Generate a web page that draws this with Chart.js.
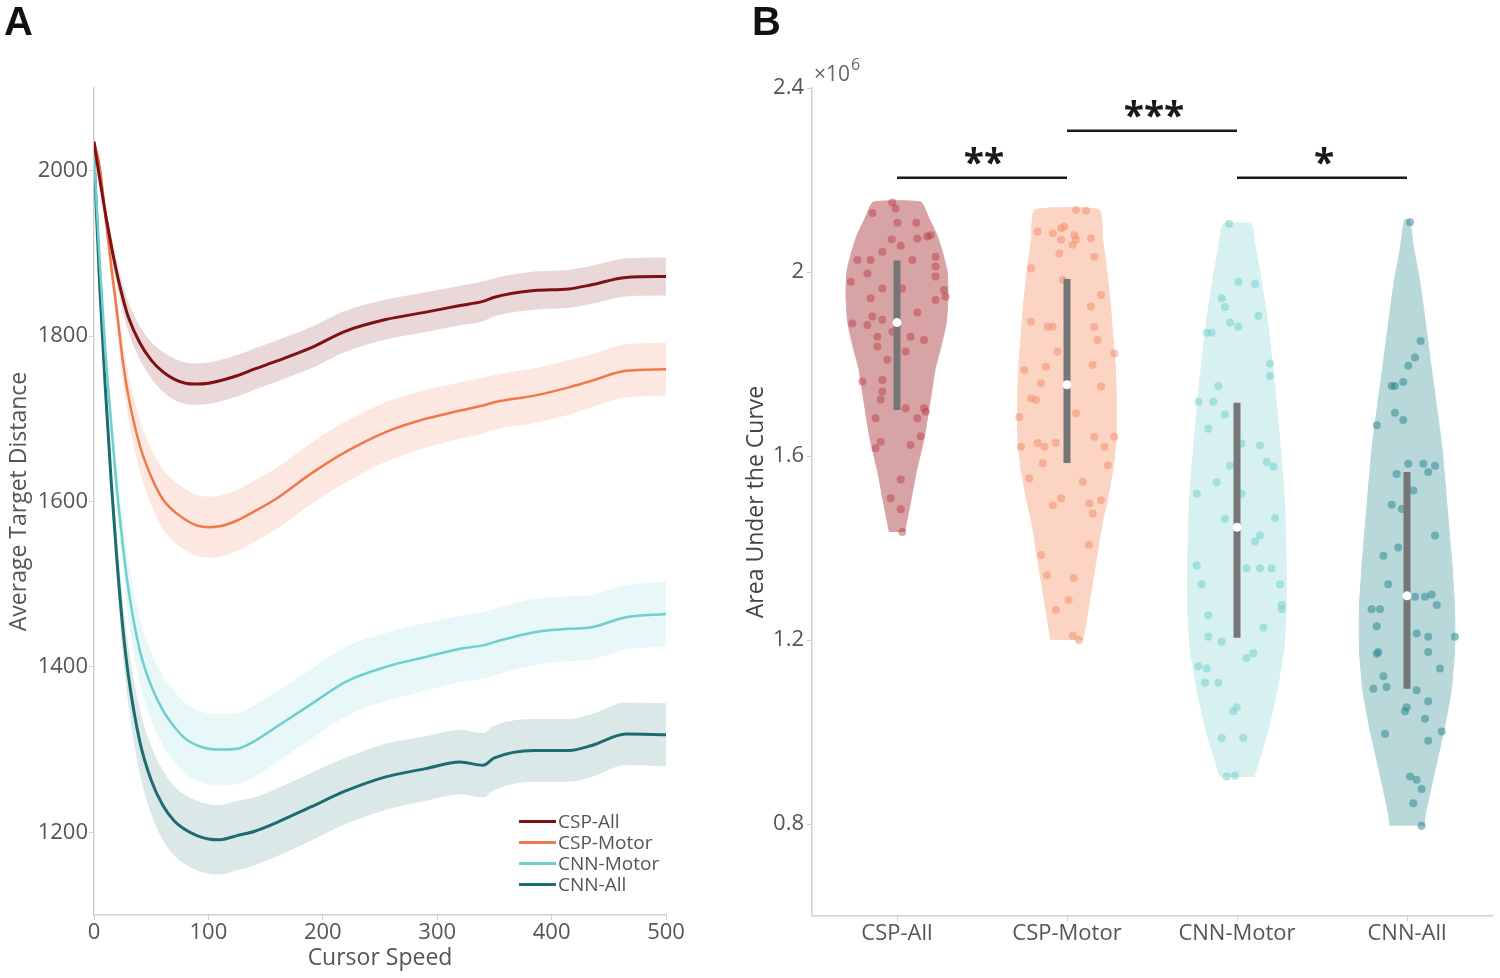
<!DOCTYPE html>
<html lang="en">
<head>
  <meta charset="UTF-8" />
  <title>Target distance and area under the curve</title>
  <style>
    body {
      margin: 0;
      background: white;
      font-family: 'Open Sans', sans-serif;
    }

    .page {
      position: relative;
      width: 1500px;
      height: 978px;
      overflow: hidden;
    }

    canvas {
      position: absolute;
      top: 0;
    }

    #distChart { left: 0; }
    #aucChart { left: 700px; }

    .tag {
      position: absolute;
      top: 1px;
      margin: 0;
      font: bold 40px 'Liberation Sans', Arial, sans-serif;
      line-height: 1;
      color: #111;
    }

    #legendA {
      position: absolute;
      left: 519px;
      top: 811px;
      font-size: 19px;
      line-height: 21px;
      color: #555;
    }

    #legendA .row {
      display: flex;
      align-items: center;
      white-space: nowrap;
    }

    #legendA .swatch {
      width: 37px;
      height: 3px;
      margin-right: 2px;
    }
  </style>
</head>
<body>

  <div class="page">
    <canvas id="distChart" width="700" height="978"></canvas>
    <canvas id="aucChart" width="800" height="978"></canvas>
    <div class="tag" style="left:4px">A</div>
    <div class="tag" style="left:752px">B</div>
    <div id="legendA"></div>
  </div>

  <script src="https://cdn.jsdelivr.net/npm/chart.js"></script>
  <script>
    // ---- panel A: average target distance vs cursor speed ----
    const speeds = [0, 5, 10, 15, 20, 25, 30, 40, 50, 60, 70, 80, 90, 100, 110, 125, 140, 160, 190, 220, 255, 290, 320, 340, 350, 385, 415, 435, 465, 500];
    const seriesNames = ['CSP-All', 'CSP-Motor', 'CNN-Motor', 'CNN-All'];

    const cspAllMean   = [2035, 1990, 1948, 1910, 1876, 1847, 1823, 1792, 1771, 1757, 1748, 1743, 1742, 1743, 1746, 1752, 1760, 1770, 1786, 1806, 1820, 1829, 1837, 1842, 1847, 1855, 1857, 1862, 1871, 1872];
    const cspMotorMean = [2035, 2005, 1945, 1885, 1830, 1772, 1728, 1668, 1630, 1603, 1588, 1578, 1571, 1569, 1570, 1577, 1588, 1604, 1634, 1660, 1684, 1700, 1710, 1716, 1720, 1728, 1738, 1746, 1758, 1760];
    const cnnMotorMean = [2020, 1890, 1780, 1695, 1615, 1550, 1495, 1420, 1377, 1348, 1328, 1313, 1305, 1301, 1300, 1301, 1310, 1328, 1355, 1382, 1400, 1412, 1422, 1426, 1430, 1442, 1446, 1448, 1460, 1464];
    const cnnAllMean   = [2020, 1860, 1735, 1625, 1530, 1450, 1390, 1310, 1263, 1233, 1214, 1203, 1196, 1192, 1191, 1196, 1201, 1212, 1231, 1250, 1267, 1277, 1285, 1281, 1290, 1299, 1299, 1305, 1319, 1318];

    const cspAllSem   = [3, 6, 9, 12, 14, 16, 18, 20, 22, 24, 25, 25, 25, 25, 25, 25, 25, 25, 25, 25, 24, 24, 24, 24, 23, 23, 23, 23, 23, 23];
    const cspMotorSem = [3, 8, 12, 16, 20, 24, 27, 31, 34, 36, 37, 37, 37, 37, 37, 37, 37, 37, 37, 37, 36, 35, 34, 34, 33, 33, 33, 32, 32, 32];
    const cnnMotorSem = [3, 10, 16, 22, 27, 32, 35, 39, 41, 42, 43, 43, 43, 43, 43, 43, 43, 43, 42, 42, 41, 41, 40, 40, 40, 40, 39, 39, 39, 39];
    const cnnAllSem   = [3, 10, 16, 22, 27, 32, 35, 39, 41, 42, 42, 42, 42, 42, 42, 42, 41, 41, 41, 40, 40, 39, 39, 39, 39, 38, 38, 38, 38, 38];

    const distTicks = [1200, 1400, 1600, 1800, 2000];

    // ---- panel B: area under the curve (x10^6) ----
    const groupNames = ['CSP-All', 'CSP-Motor', 'CNN-Motor', 'CNN-All'];
    const aucTicks = [0.8, 1.2, 1.6, 2, 2.4];

    // violin outline: [value, half width]
    const cspAllViolin   = [[1.435, 0.045], [1.50, 0.08], [1.56, 0.11], [1.64, 0.16], [1.72, 0.195], [1.79, 0.225], [1.84, 0.26], [1.89, 0.29], [1.95, 0.30], [2.00, 0.295], [2.04, 0.27], [2.08, 0.235], [2.115, 0.19], [2.152, 0.14]];
    const cspMotorViolin = [[1.20, 0.095], [1.29, 0.135], [1.37, 0.17], [1.45, 0.205], [1.50, 0.235], [1.57, 0.27], [1.64, 0.29], [1.72, 0.29], [1.79, 0.285], [1.86, 0.27], [1.93, 0.255], [2.00, 0.235], [2.07, 0.21], [2.135, 0.19]];
    const cnnMotorViolin = [[0.902, 0.10], [0.95, 0.14], [1.0, 0.18], [1.09, 0.235], [1.18, 0.275], [1.27, 0.29], [1.36, 0.29], [1.50, 0.28], [1.62, 0.255], [1.76, 0.22], [1.89, 0.18], [2.0, 0.135], [2.06, 0.105], [2.104, 0.083]];
    const cnnAllViolin   = [[0.796, 0.10], [0.824, 0.11], [0.91, 0.16], [1.0, 0.215], [1.09, 0.26], [1.18, 0.28], [1.27, 0.28], [1.36, 0.265], [1.45, 0.245], [1.62, 0.205], [1.80, 0.14], [1.90, 0.105], [1.98, 0.075], [2.05, 0.04], [2.113, 0.015]];

    // subject points: [jitter, value]
    const cspAllDots = [[-0.028, 2.151], [-0.008, 2.138], [-0.145, 2.128], [0.002, 2.107], [0.114, 2.107], [-0.031, 2.071], [0.022, 2.057], [0.12, 2.073], [0.178, 2.077], [0.198, 2.080], [-0.086, 2.044], [-0.233, 2.026], [-0.155, 2.026], [0.09, 2.026], [0.227, 2.033], [-0.174, 1.997], [0.227, 2.012], [0.227, 1.990], [-0.272, 1.979], [-0.086, 1.964], [0.031, 1.964], [0.276, 1.961], [0.286, 1.946], [-0.155, 1.943], [0.227, 1.939], [-0.145, 1.903], [-0.086, 1.896], [0.12, 1.912], [-0.263, 1.888], [-0.174, 1.885], [-0.028, 1.870], [0.08, 1.859], [0.159, 1.852], [-0.116, 1.859], [-0.116, 1.838], [0.051, 1.827], [-0.057, 1.809], [-0.204, 1.762], [-0.086, 1.765], [-0.086, 1.740], [-0.096, 1.723], [0.051, 1.704], [0.159, 1.704], [0.169, 1.696], [-0.126, 1.682], [0.12, 1.682], [0.139, 1.643], [-0.096, 1.631], [-0.126, 1.617], [0.08, 1.624], [0.022, 1.549], [-0.037, 1.508], [0.022, 1.484], [0.031, 1.435]];
    const cspMotorDots = [[0.053, 2.135], [0.112, 2.133], [-0.173, 2.088], [-0.084, 2.084], [-0.035, 2.095], [-0.016, 2.099], [0.043, 2.080], [0.053, 2.070], [-0.035, 2.070], [0.033, 2.059], [0.141, 2.073], [-0.045, 2.040], [0.161, 2.033], [-0.212, 2.008], [-0.025, 1.983], [0.2, 1.950], [0.141, 1.925], [-0.212, 1.892], [-0.114, 1.881], [-0.084, 1.881], [0.161, 1.881], [0.18, 1.852], [-0.055, 1.827], [0.278, 1.823], [-0.251, 1.787], [-0.124, 1.794], [0.151, 1.798], [-0.153, 1.758], [-0.212, 1.725], [-0.182, 1.722], [0.2, 1.751], [0.053, 1.693], [-0.28, 1.685], [-0.173, 1.628], [-0.133, 1.620], [-0.065, 1.628], [0.161, 1.642], [0.278, 1.642], [0.22, 1.620], [-0.271, 1.620], [-0.143, 1.584], [0.24, 1.580], [-0.222, 1.551], [0.092, 1.544], [0.2, 1.504], [-0.084, 1.493], [-0.035, 1.508], [0.131, 1.497], [0.151, 1.475], [-0.118, 1.341], [0.04, 1.335], [-0.153, 1.385], [0.129, 1.407], [0.01, 1.287], [0.035, 1.209], [0.07, 1.2], [-0.065, 1.265]];
    const cnnMotorDots = [[-0.047, 2.105], [0.008, 1.979], [0.106, 1.974], [-0.09, 1.943], [-0.071, 1.924], [0.125, 1.905], [-0.041, 1.890], [0.008, 1.881], [-0.178, 1.868], [-0.149, 1.868], [0.194, 1.801], [0.194, 1.774], [-0.11, 1.752], [-0.227, 1.718], [-0.139, 1.718], [-0.071, 1.690], [-0.169, 1.659], [0.027, 1.627], [0.135, 1.623], [0.175, 1.587], [0.214, 1.577], [-0.041, 1.579], [-0.12, 1.543], [-0.237, 1.518], [0.027, 1.518], [-0.071, 1.463], [0.224, 1.465], [0.135, 1.427], [0.106, 1.414], [0.057, 1.356], [0.135, 1.356], [0.204, 1.356], [-0.237, 1.362], [0.253, 1.321], [-0.208, 1.321], [0.263, 1.276], [0.263, 1.267], [-0.169, 1.254], [0.155, 1.227], [-0.169, 1.207], [-0.09, 1.196], [0.096, 1.171], [0.057, 1.161], [-0.227, 1.143], [-0.178, 1.138], [-0.11, 1.107], [-0.188, 1.107], [-0.002, 1.054], [-0.022, 1.045], [-0.09, 0.987], [0.037, 0.987], [-0.061, 0.903], [-0.012, 0.905]];
    const cnnAllDots = [[0.018, 2.108], [0.08, 1.850], [0.047, 1.814], [0.008, 1.796], [-0.022, 1.761], [-0.09, 1.752], [-0.071, 1.752], [-0.071, 1.694], [-0.022, 1.678], [-0.178, 1.667], [0.096, 1.583], [0.165, 1.579], [0.125, 1.565], [-0.061, 1.561], [0.008, 1.583], [0.037, 1.525], [-0.09, 1.494], [-0.031, 1.485], [0.165, 1.427], [-0.051, 1.401], [-0.139, 1.383], [-0.11, 1.321], [0.145, 1.299], [0.106, 1.294], [0.175, 1.276], [0.047, 1.294], [-0.208, 1.267], [-0.159, 1.267], [-0.178, 1.230], [0.282, 1.207], [0.057, 1.214], [0.125, 1.207], [0.125, 1.174], [-0.169, 1.174], [-0.178, 1.170], [-0.139, 1.121], [-0.12, 1.098], [-0.198, 1.094], [0.057, 1.091], [0.194, 1.138], [0.125, 1.067], [-0.002, 1.054], [-0.012, 1.045], [0.106, 1.029], [0.204, 1.001], [-0.129, 0.996], [0.125, 0.981], [0.018, 0.903], [0.057, 0.896], [0.086, 0.876], [0.037, 0.845], [0.086, 0.796]];

    const boxLow  = [1.70, 1.585, 1.205, 1.094];
    const boxHigh = [2.025, 1.985, 1.716, 1.565];
    const medians = [1.89, 1.755, 1.445, 1.296];

    const sigPairs  = [[1, 2], [2, 3], [3, 4]];
    const sigLevels = [2.205, 2.307, 2.205];
    const sigLabels = ['**', '***', '*'];

    // ---- styles ----
    const lineColors = ['#7e1114', '#ee7a4b', '#6ecfcd', '#1d6c70'];
    const lineWidths = [3, 2.5, 2.5, 3];
    const bandColors = ['rgba(128,20,25,0.17)', 'rgba(240,120,70,0.17)', 'rgba(100,200,200,0.15)', 'rgba(30,110,115,0.16)'];
    const violinColors = ['#d8a3a4', '#fcd4c3', '#d7f0f0', '#b9d8da'];
    const dotColors = ['rgba(185,55,65,0.45)', 'rgba(242,140,105,0.5)', 'rgba(110,205,205,0.5)', 'rgba(35,130,135,0.5)'];

    const axisGray = '#cfcfcf';
    const tickFont = { size: 22 };
    Chart.defaults.font.family = "'Open Sans', sans-serif";
    Chart.defaults.color = '#555';

    // ---- chart A ----
    const means = [cspAllMean, cspMotorMean, cnnMotorMean, cnnAllMean];
    const sems = [cspAllSem, cspMotorSem, cnnMotorSem, cnnAllSem];
    const distSets = [];

    seriesNames.forEach((name, i) => {
      distSets.push({
        data: speeds.map((x, k) => ({ x, y: means[i][k] + sems[i][k] })),
        fill: '+1', backgroundColor: bandColors[i], borderColor: 'transparent',
        borderWidth: 1, pointRadius: 0, cubicInterpolationMode: 'monotone', order: 2
      });
      distSets.push({
        data: speeds.map((x, k) => ({ x, y: means[i][k] - sems[i][k] })),
        fill: false, borderColor: 'transparent', borderWidth: 1, pointRadius: 0,
        cubicInterpolationMode: 'monotone', order: 2
      });
    });
    seriesNames.forEach((name, i) => {
      distSets.push({
        label: name,
        data: speeds.map((x, k) => ({ x, y: means[i][k] })),
        borderColor: lineColors[i], borderWidth: lineWidths[i], pointRadius: 0,
        fill: false, cubicInterpolationMode: 'monotone', order: 0
      });
    });

    new Chart(document.getElementById('distChart'), {
      type: 'line',
      data: { datasets: distSets },
      options: {
        responsive: false,
        animation: false,
        events: [],
        layout: { padding: { left: 0, right: 34, top: 88, bottom: 0 } },
        plugins: { legend: { display: false }, tooltip: { enabled: false } },
        scales: {
          x: {
            type: 'linear', min: 0, max: 500,
            ticks: { stepSize: 100, font: tickFont, padding: 0, maxRotation: 0, callback: v => String(v) },
            grid: { drawOnChartArea: false, tickLength: 5, color: axisGray },
            border: { color: axisGray, width: 1.5 },
            title: { display: true, text: 'Cursor Speed', font: { size: 23 }, padding: { top: 0, bottom: 6 } },
            afterFit: s => { s.height = 63; }
          },
          y: {
            min: 1100, max: 2100,
            afterBuildTicks: s => { s.ticks = distTicks.map(v => ({ value: v })); },
            ticks: { font: tickFont, padding: 1, callback: v => String(v) },
            grid: { drawOnChartArea: false, tickLength: 5, color: axisGray },
            border: { color: axisGray, width: 1.5 },
            title: { display: true, text: 'Average Target Distance', font: { size: 23 }, padding: { top: 6, bottom: 0 } },
            afterFit: s => { s.width = 94; }
          }
        }
      }
    });

    // legend inside panel A
    const legendA = document.getElementById('legendA');
    seriesNames.forEach((name, i) => {
      const row = document.createElement('div');
      row.className = 'row';
      row.innerHTML = `<span class="swatch" style="background:${lineColors[i]}"></span>${name}`;
      legendA.appendChild(row);
    });

    // ---- chart B ----
    const violins = [cspAllViolin, cspMotorViolin, cnnMotorViolin, cnnAllViolin];
    const dots = [cspAllDots, cspMotorDots, cnnMotorDots, cnnAllDots];
    const aucSets = [];

    groupNames.forEach((g, i) => {
      const c = i + 1;
      const v = violins[i];
      const outline = v.map(([y, w]) => ({ x: c + w, y }))
        .concat(v.slice().reverse().map(([y, w]) => ({ x: c - w, y })));
      aucSets.push({
        data: outline, showLine: true, fill: 'shape',
        backgroundColor: violinColors[i], borderColor: violinColors[i], borderWidth: 1,
        pointRadius: 0, tension: 0.15, order: 4
      });
      aucSets.push({
        data: dots[i].map(([dx, y]) => ({ x: c + dx, y })),
        pointRadius: 4, backgroundColor: dotColors[i], borderWidth: 0, order: 3
      });
      aucSets.push({
        data: [{ x: c, y: boxLow[i] }, { x: c, y: boxHigh[i] }],
        showLine: true, borderColor: '#767676', borderWidth: 7, borderCapStyle: 'butt',
        pointRadius: 0, order: 2
      });
      aucSets.push({
        data: [{ x: c, y: medians[i] }],
        pointRadius: 4.5, backgroundColor: '#ffffff', borderWidth: 0, order: 1
      });
    });
    sigPairs.forEach((p, k) => {
      aucSets.push({
        data: [{ x: p[0], y: sigLevels[k] }, { x: p[1], y: sigLevels[k] }],
        showLine: true, borderColor: '#1a1a1a', borderWidth: 2.5, pointRadius: 0, order: 0
      });
    });

    const aucLabels = {
      id: 'aucLabels',
      afterDatasetsDraw(chart) {
        const { ctx, chartArea, scales: { x, y } } = chart;
        ctx.save();
        ctx.fillStyle = '#1a1a1a';
        ctx.font = "bold 37px 'Open Sans', sans-serif";
        ctx.textAlign = 'center';
        ctx.textBaseline = 'alphabetic';
        sigPairs.forEach((p, k) => {
          ctx.fillText(sigLabels[k], x.getPixelForValue((p[0] + p[1]) / 2) + 2, y.getPixelForValue(sigLevels[k]) - 2);
        });
        // exponent of the y axis
        ctx.fillStyle = '#666';
        ctx.textAlign = 'left';
        ctx.font = "21px 'Open Sans', sans-serif";
        ctx.fillText('\u00d710', chartArea.left + 2, chartArea.top - 7);
        const w = ctx.measureText('\u00d710').width;
        ctx.font = "16px 'Open Sans', sans-serif";
        ctx.fillText('6', chartArea.left + 3 + w, chartArea.top - 18);
        ctx.restore();
      }
    };

    new Chart(document.getElementById('aucChart'), {
      type: 'scatter',
      data: { datasets: aucSets },
      plugins: [aucLabels],
      options: {
        responsive: false,
        animation: false,
        events: [],
        layout: { padding: { left: 0, right: 8, top: 88, bottom: 0 } },
        plugins: { legend: { display: false }, tooltip: { enabled: false } },
        scales: {
          x: {
            type: 'linear', min: 0.5, max: 4.5,
            afterBuildTicks: s => { s.ticks = groupNames.map((g, i) => ({ value: i + 1 })); },
            ticks: { callback: (v, i) => groupNames[i], font: tickFont, padding: 0, maxRotation: 0, autoSkip: false },
            grid: { drawOnChartArea: false, tickLength: 5, color: axisGray },
            border: { color: axisGray, width: 1.5 },
            afterFit: s => { s.height = 62; }
          },
          y: {
            min: 0.6, max: 2.4,
            afterBuildTicks: s => { s.ticks = aucTicks.map(v => ({ value: v })); },
            ticks: { callback: v => String(v), font: tickFont, padding: 3 },
            grid: { drawOnChartArea: false, tickLength: 5, color: axisGray },
            border: { color: axisGray, width: 1.5 },
            title: { display: true, text: 'Area Under the Curve', color: '#444', font: { size: 23 }, padding: { top: 43, bottom: 0 } },
            afterFit: s => { s.width = 112; }
          }
        }
      }
    });
  </script>

</body>
</html>
